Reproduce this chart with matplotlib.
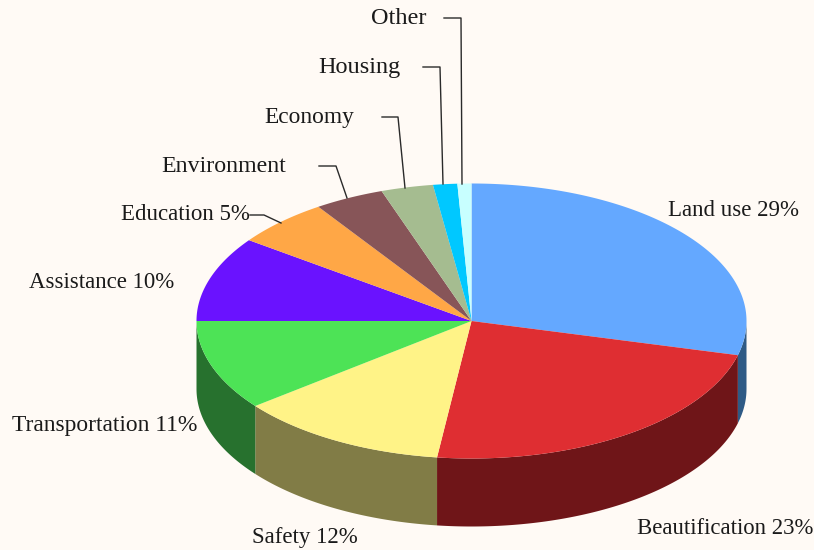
import matplotlib
matplotlib.use("Agg")
import matplotlib.pyplot as plt
import numpy as np
from matplotlib.patches import Polygon

names = ["Land use", "Beautification", "Safety", "Transportation", "Assistance",
         "Education", "Environment", "Economy", "Housing", "Other"]
shares = [29, 23, 12.4, 10.6, 10.0, 5.6, 4.1, 3.06, 1.42, 0.82]
labels = ["Land use 29%", "Beautification 23%", "Safety 12%", "Transportation 11%", "Assistance 10%",
          "Education 5%", "Environment", "Economy", "Housing", "Other"]
top_colors = ["#64A8FF", "#DF2E32", "#FFF387", "#4DE356", "#6A12FF",
              "#FFA746", "#875558", "#A5BC90", "#00C8FF", "#C8FFFF"]
side_colors = ["#2F5A85", "#6F1518", "#817C46", "#27712E", "#35098A",
               "#80532A", "#432A2C", "#525E48", "#006480", "#648080"]

label_pos = [(668, 210), (637, 529), (252, 537), (12, 425), (29, 282),
             (121, 214), (161, 167), (264, 117), (318, 67), (371, 18)]
label_size = [16.5, 16.4, 16.5, 16.9, 16.5, 16.5, 17.2, 16.8, 17.5, 17.5]

# leader lines for the small slices
leaders = {
    "Education": [(250, 215), (264, 215), (281, 223)],
    "Environment": [(319, 166), (336, 166), (347, 198)],
    "Economy": [(382, 117), (398, 117), (405, 188)],
    "Housing": [(423, 67), (440, 67), (443, 184)],
    "Other": [(444, 18), (461, 18), (462, 184)],
}

bg = "#FFFAF5"
cx, cy = 471.5, 321
rx, ry = 275, 137.5
depth = 68


def rim(a0, a1):
    t = np.linspace(a0, a1, max(int(abs(a1 - a0) * 2), 2))
    t = np.radians(t)
    return cx + rx * np.sin(t), cy - ry * np.cos(t)


fig = plt.figure(figsize=(8.14, 5.5), dpi=100, facecolor=bg)
ax = fig.add_axes([0, 0, 1, 1])
ax.set_xlim(0, 814)
ax.set_ylim(550, 0)
ax.axis("off")

edges = np.concatenate([[0], np.cumsum(shares)]) * 3.6

# walls first, only the front half of the rim shows
for i in range(len(shares)):
    a0 = max(edges[i], 90)
    a1 = min(edges[i + 1], 270)
    if a1 <= a0:
        continue
    x, y = rim(a0, a1)
    xs = np.concatenate([x, x[::-1]])
    ys = np.concatenate([y, y[::-1] + depth])
    ax.add_patch(Polygon(np.column_stack([xs, ys]), closed=True, fc=side_colors[i], ec="none"))

for i in range(len(shares)):
    x, y = rim(edges[i], edges[i + 1])
    xs = np.concatenate([[cx], x])
    ys = np.concatenate([[cy], y])
    ax.add_patch(Polygon(np.column_stack([xs, ys]), closed=True, fc=top_colors[i], ec="none"))

for name, pts in leaders.items():
    ax.plot([p[0] for p in pts], [p[1] for p in pts], color="#2a2a2a", lw=1.0)

for lab, pos, size in zip(labels, label_pos, label_size):
    ax.text(pos[0], pos[1], lab, family="Liberation Serif", fontsize=size, color="#1a1a1a",
            ha="left", va="center")

fig.savefig("out.png", dpi=100, facecolor=bg)
